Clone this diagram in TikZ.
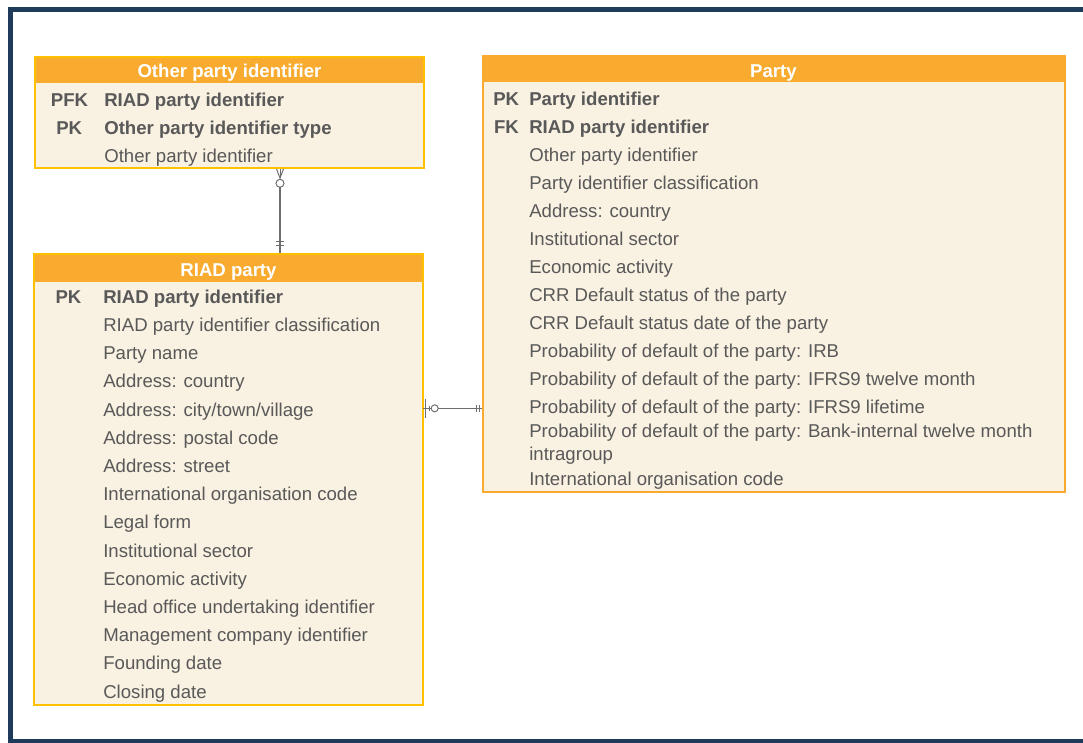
\documentclass[tikz,border=0pt]{standalone}
\usepackage{fontspec}
\usetikzlibrary{calc}
\setmainfont{Liberation Sans}
\definecolor{hdrorange}{HTML}{F9AB30}
\definecolor{goldline}{HTML}{FFC000}
\definecolor{cream}{HTML}{F9F1E1}
\definecolor{txt}{HTML}{595959}
\definecolor{navy}{HTML}{1F3B5C}
\definecolor{conn}{HTML}{6E6E6E}
\newcommand\fsz{\fontsize{18.6}{22}\selectfont}
\begin{document}
\begin{tikzpicture}[x=1pt,y=-1pt,
  every node/.style={inner sep=0pt,outer sep=0pt},
  framebox/.style={draw=navy,line width=5pt},
  body/.style={rectangle,fill=cream,anchor=north west,line width=2pt},
  hdr/.style={rectangle,fill=hdrorange,anchor=north west},
  hdrtext/.style={text=white,font=\fsz\bfseries,anchor=base},
  keytext/.style={text=txt,font=\fsz\bfseries,anchor=base},
  attr/.style={text=txt,font=\fsz,anchor=base west},
  battr/.style={text=txt,font=\fsz\bfseries,anchor=base west},
  rel/.style={draw=conn,line width=1.3pt},
  relthin/.style={draw=conn,line width=1pt}
]
\useasboundingbox (0,0) rectangle (1083,742);
\clip (0,0) rectangle (1083,742);
\draw[framebox] (10.5,9) rectangle (1100,741.5);

% ---------- Other party identifier ----------
\node[body,draw=goldline,minimum width=389pt,minimum height=111.5pt] (opi) at (35,56.5) {};
\node[hdr,minimum width=389pt,minimum height=26.8pt] (opih) at (35,56.5) {};
\draw[goldline,line width=2pt] (opi.north west) rectangle (opi.south east);
\node[hdrtext] (opit) at (229.5,77.8) {Other party identifier};
\node[keytext] (opik1) at (69.5,106.3) {PFK};
\node[keytext] (opik2) at (69.2,134.3) {PK};
\node[battr] (opia1) at (104.3,106.3) {RIAD party identifier};
\node[battr] (opia2) at (104.3,134.3) {Other party identifier type};
\node[attr] (opia3) at (104.3,162.3) {Other party identifier};

% ---------- RIAD party ----------
\node[body,draw=goldline,minimum width=389pt,minimum height=450.5pt] (riad) at (34,254) {};
\node[hdr,minimum width=389pt,minimum height=27.7pt] (riadh) at (34,254) {};
\draw[goldline,line width=2pt] (riad.north west) rectangle (riad.south east);
\node[hdrtext] (riadt) at (228.5,276) {RIAD party};
\node[keytext] (riadk1) at (68.5,303.3) {PK};
\node[battr] (riada0) at (103.3,303.3) {RIAD party identifier};
\foreach \t [count=\i from 1] in {RIAD party identifier classification,Party name,Address: country,Address: city/town/village,Address: postal code,Address: street,International organisation code,Legal form,Institutional sector,Economic activity,Head office undertaking identifier,Management company identifier,Founding date,Closing date}
  \node[attr] (riada\i) at (103.3,303.3+28.2*\i) {\t};

% ---------- Party ----------
\node[body,draw=hdrorange,minimum width=582pt,minimum height=435.5pt] (party) at (482.5,56) {};
\node[hdr,minimum width=583pt,minimum height=27.3pt] (partyh) at (482,55) {};
\node[hdrtext] (partyt) at (773.5,77.8) {Party};
\node[keytext] (partyk1) at (506.2,105.1) {PK};
\node[keytext] (partyk2) at (506.5,133.1) {FK};
\node[battr] (partya0) at (529.3,105.1) {Party identifier};
\node[battr] (partya1) at (529.3,133.1) {RIAD party identifier};
\foreach \t [count=\i from 2] in {Other party identifier,Party identifier classification,Address: country,Institutional sector,Economic activity,CRR Default status of the party,CRR Default status date of the party,Probability of default of the party: IRB,Probability of default of the party: IFRS9 twelve month,Probability of default of the party: IFRS9 lifetime}
  \node[attr] (partya\i) at (529.3,105.1+28*\i) {\t};
\node[attr] (partya12) at (529.3,437.5) {Probability of default of the party: Bank-internal twelve month};
\node[attr] (partya12b) at (529.3,460.8) {intragroup};
\node[attr] (partya13) at (529.3,485.1) {International organisation code};

% ---------- connector: Other party identifier -- RIAD party ----------
\coordinate (c1top) at (280,169);
\coordinate (c1foot) at (280,178);
\coordinate (c1circ) at (280,183.3);
\coordinate (c1bot) at (280,253);
\draw[relthin] (276.5,169) -- (c1foot) -- (283.5,169);
\draw[relthin] (c1top) -- (c1foot);
\draw[relthin] (c1circ) circle (4pt);
\draw[rel] ($(c1circ)+(0,4)$) -- (c1bot);
\draw[relthin] (275.7,241.7) -- (284.3,241.7);
\draw[relthin] (275.7,245.3) -- (284.3,245.3);

% ---------- connector: RIAD party -- Party ----------
\coordinate (c2l) at (423,408.3);
\coordinate (c2circ) at (434.7,408.3);
\coordinate (c2r) at (481.5,408.3);
\draw[relthin] (425.7,399) -- (425.7,417.5);
\draw[relthin] (c2l) -- ($(c2circ)+(-3.5,0)$);
\draw[relthin] (429.3,405.5) -- (429.3,411);
\draw[relthin] (c2circ) circle (3.5pt);
\draw[relthin] ($(c2circ)+(3.5,0)$) -- (c2r);
\draw[relthin] (476.5,405) -- (476.5,411.5);
\draw[relthin] (479,405) -- (479,411.5);
\end{tikzpicture}
\end{document}
